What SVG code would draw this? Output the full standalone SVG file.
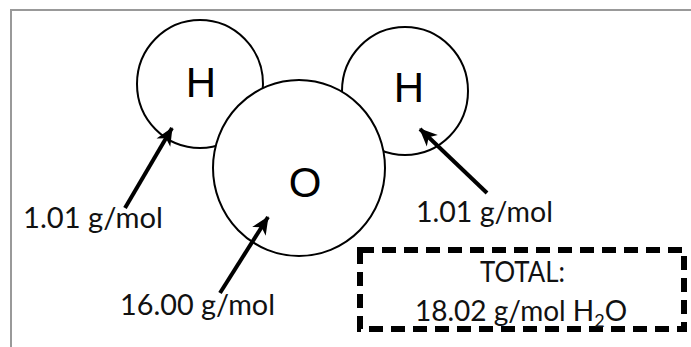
<svg xmlns="http://www.w3.org/2000/svg" width="691" height="347" viewBox="0 0 691 347">
<style>
.atom{fill:#fff;stroke:#000;stroke-width:2}
.sym{font-family:"Liberation Sans",Arial,sans-serif;font-size:42px;fill:#000;text-anchor:middle}
.lbl{font-family:Lato,"Open Sans",sans-serif;font-size:28px;fill:#111}
.arr{stroke:#000;stroke-width:4;fill:none}
</style>
<defs>
<marker id="ah" viewBox="0 0 20 20" refX="18" refY="10" markerWidth="20" markerHeight="20" orient="auto" markerUnits="userSpaceOnUse">
<path d="M1,2 L19,10 L1,18 L6,10 Z" fill="#000"/>
</marker>
</defs>
<rect width="691" height="347" fill="#fff"/>
<path d="M11,347 V10 H691" fill="none" stroke="#999" stroke-width="2"/>
<g id="h-left">
<ellipse class="atom" cx="200" cy="84" rx="63" ry="64"/>
<text class="sym" x="201" y="97">H</text>
</g>
<g id="h-right">
<ellipse class="atom" cx="405" cy="91" rx="63" ry="64"/>
<text class="sym" x="409" y="102">H</text>
</g>
<g id="oxygen">
<ellipse class="atom" cx="299" cy="168" rx="86" ry="88"/>
<text class="sym" x="305" y="197">O</text>
</g>
<g id="connectors">
<line class="arr" x1="125" y1="208" x2="172" y2="128" marker-end="url(#ah)"/>
<line class="arr" x1="220" y1="293" x2="268" y2="217" marker-end="url(#ah)"/>
<line class="arr" x1="487" y1="193" x2="420" y2="129" marker-end="url(#ah)"/>
</g>
<g id="label-h-left">
<text class="lbl" x="23" y="228" textLength="140" lengthAdjust="spacingAndGlyphs">1.01 g/mol</text>
</g>
<g id="label-o">
<text class="lbl" x="120" y="315" textLength="155" lengthAdjust="spacingAndGlyphs">16.00 g/mol</text>
</g>
<g id="label-h-right">
<text class="lbl" x="416" y="222" textLength="137" lengthAdjust="spacingAndGlyphs">1.01 g/mol</text>
</g>
<g id="total">
<rect x="360" y="250" width="324" height="79" fill="none" stroke="#000" stroke-width="6" stroke-dasharray="14 8"/>
<text class="lbl" x="480" y="282" textLength="85" lengthAdjust="spacingAndGlyphs">TOTAL:</text>
<text class="lbl" x="415" y="321">18.02 g/mol H<tspan font-size="18" dy="6">2</tspan><tspan dy="-6">O</tspan></text>
</g>
</svg>
